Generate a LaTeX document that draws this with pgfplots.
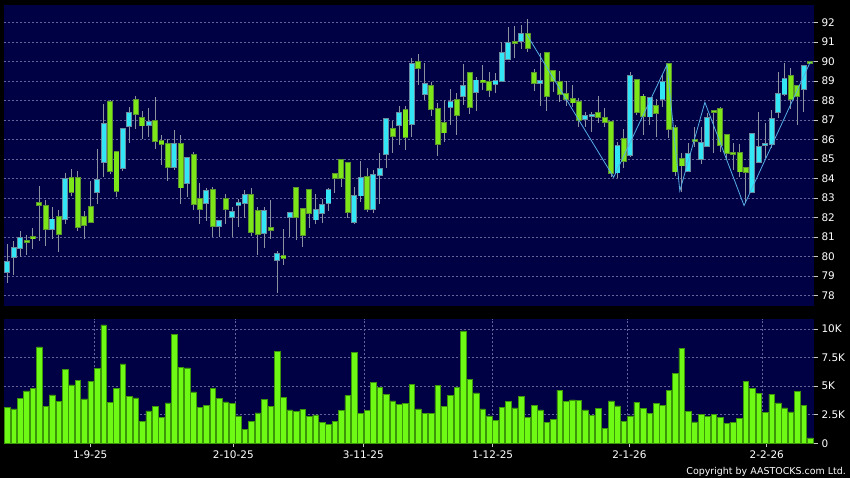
\documentclass[border=0pt]{standalone}
\usepackage{pgfplots}
\usepackage{pgfplotstable}
\pgfplotsset{compat=1.18}
\usepackage{fontspec}
\setmainfont{DejaVu Sans}

\definecolor{navy}{RGB}{0,0,68}
\definecolor{gridc}{RGB}{100,100,155}
\definecolor{cyanf}{RGB}{50,230,245}
\definecolor{cyanb}{RGB}{105,140,160}
\definecolor{greenf}{RGB}{125,230,25}
\definecolor{greenb}{RGB}{90,150,45}
\definecolor{wick}{RGB}{140,145,160}
\definecolor{volf}{RGB}{110,250,20}
\definecolor{volb}{RGB}{60,150,10}
\definecolor{zig}{RGB}{85,175,230}
\definecolor{tickc}{RGB}{200,200,200}

% i  body-bottom  body-top  low  high
\pgfplotstableread{
i bb bt lo hi
1 79.23 79.74 78.67 80.63
2 80.00 80.43 79.06 80.82
3 80.43 80.97 80.00 81.32
8 81.40 81.91 80.89 82.53
10 81.93 83.97 81.66 84.27
15 83.30 83.91 82.68 85.52
16 84.84 86.79 84.10 87.83
19 84.53 86.53 84.41 86.53
20 86.68 87.35 85.81 87.69
23 86.75 86.89 86.15 87.64
27 84.58 85.76 84.44 86.50
29 83.76 85.04 83.04 85.04
32 82.75 83.38 81.83 83.50
34 81.56 81.81 80.99 81.90
36 82.02 82.27 81.03 82.56
37 82.65 82.74 81.54 82.94
38 82.74 83.18 81.97 83.42
41 81.20 82.36 80.43 82.56
43 79.83 80.12 78.15 80.31
45 82.02 82.22 81.03 82.22
49 81.90 82.38 81.66 83.21
50 82.22 82.65 81.71 82.96
51 82.74 83.40 82.32 83.50
55 81.76 83.13 81.66 83.59
56 83.13 84.02 82.79 84.89
58 82.43 84.17 82.22 84.44
59 84.17 84.48 82.68 85.30
60 85.25 87.04 84.53 87.13
62 86.74 87.35 85.73 87.73
64 86.79 89.86 86.15 90.17
66 88.32 88.84 88.03 89.91
70 87.69 87.95 86.75 88.58
72 88.21 88.77 87.78 89.86
74 88.43 89.03 87.49 89.20
77 88.85 89.01 88.41 89.40
78 89.01 90.46 88.97 90.99
79 90.12 90.97 90.09 91.76
81 91.03 91.42 90.63 91.88
84 88.89 88.99 87.73 90.43
91 87.04 87.21 86.67 87.44
92 87.19 87.26 86.41 87.44
96 84.31 85.69 84.02 85.90
98 85.21 89.28 85.13 89.49
101 87.18 88.12 86.75 88.12
103 88.07 88.97 87.69 89.32
107 84.39 85.25 84.36 85.85
109 84.99 85.85 84.74 86.67
110 85.68 87.09 85.64 87.35
117 83.33 86.27 83.28 86.27
118 84.84 85.64 84.79 87.40
119 85.70 85.76 85.04 86.84
120 85.76 87.04 85.56 87.52
121 87.40 88.32 87.09 89.44
122 88.32 89.09 88.21 89.95
125 88.60 89.78 87.44 89.83
}\cyantab

\pgfplotstableread{
i bb bt lo hi
4 80.75 80.82 80.09 81.11
5 80.93 81.00 80.41 81.49
6 82.65 82.74 80.82 83.62
7 81.40 82.62 80.56 82.91
9 81.15 82.02 80.22 82.39
11 83.30 84.02 83.13 84.50
12 81.52 84.05 81.32 84.38
13 81.61 82.02 80.89 82.34
14 81.78 82.53 81.71 83.88
17 84.39 87.91 84.22 88.05
18 83.35 85.35 83.08 85.35
21 87.30 88.03 86.56 88.26
22 86.72 87.09 86.02 87.47
24 85.91 86.96 85.52 88.19
25 85.76 85.91 84.70 86.24
26 84.58 85.79 83.88 86.05
28 83.54 85.76 82.72 86.24
30 82.70 85.20 82.39 85.38
31 82.43 82.97 81.69 83.79
33 81.56 83.40 81.01 83.59
35 82.43 82.97 81.67 83.20
39 81.25 83.18 81.08 83.50
40 81.15 82.36 80.09 82.56
42 81.35 81.45 80.92 82.91
44 79.93 80.02 79.57 81.42
46 82.02 83.50 80.85 83.50
47 81.09 82.43 80.48 82.43
48 82.22 83.40 81.45 83.40
52 84.02 84.22 83.25 84.22
53 84.02 84.97 83.59 84.97
54 82.27 84.79 81.97 84.79
57 82.43 84.10 82.27 84.56
61 86.17 86.53 85.33 86.97
63 86.12 87.50 85.49 87.73
65 89.66 90.00 88.80 90.39
67 87.56 88.77 87.21 88.97
68 85.76 87.56 85.18 87.86
69 86.36 86.87 85.90 88.03
71 87.25 88.03 86.26 88.38
73 87.66 89.40 87.30 89.49
75 88.97 89.03 88.55 89.83
76 88.55 88.97 88.17 89.49
80 90.94 91.00 90.17 91.83
82 90.68 91.42 90.51 92.17
83 88.89 89.40 88.51 89.60
85 88.21 90.46 87.49 90.46
86 89.01 89.52 88.46 89.52
87 88.32 88.97 87.95 89.52
88 88.09 88.32 87.73 89.01
89 87.90 88.10 87.69 88.80
90 87.01 87.95 86.67 88.15
93 87.15 87.38 86.84 88.21
94 86.89 87.09 86.63 87.61
95 84.27 86.89 84.10 86.89
97 84.92 86.02 84.53 86.53
99 87.40 89.06 87.26 89.06
100 87.21 88.21 86.24 88.34
102 87.38 87.73 86.12 88.07
104 86.55 89.86 86.07 89.86
105 84.36 86.58 84.14 86.75
106 84.67 84.99 83.33 85.30
108 85.93 85.99 85.64 86.63
111 87.41 87.47 85.30 87.52
112 85.73 87.56 85.38 87.69
113 85.30 86.24 84.96 86.24
114 85.27 85.33 84.44 85.81
115 84.36 85.30 84.10 85.76
116 84.32 84.56 82.74 84.56
123 88.07 89.26 87.56 89.66
124 88.21 88.75 86.75 88.80
126 89.94 90.00 89.90 90.00
}\greentab

\pgfplotstableread{
i v
1 3.15
2 3.00
3 3.94
4 4.58
5 4.78
6 8.43
7 3.21
8 4.23
9 3.64
10 6.47
11 5.10
12 5.51
13 3.88
14 5.42
15 6.53
16 10.35
17 3.56
18 4.81
19 6.94
20 4.11
21 3.97
22 1.90
23 2.83
24 3.21
25 2.27
26 3.53
27 9.50
28 6.65
29 6.59
30 4.49
31 3.15
32 3.29
33 4.81
34 3.94
35 3.62
36 3.50
37 2.39
38 1.20
39 1.90
40 2.65
41 3.85
42 3.21
43 8.05
44 3.99
45 2.92
46 2.77
47 2.97
48 2.36
49 2.48
50 1.81
51 1.63
52 1.90
53 2.86
54 4.17
55 7.93
56 2.62
57 2.89
58 5.31
59 4.90
60 4.31
61 3.70
62 3.38
63 3.47
64 5.16
65 3.00
66 2.62
67 2.59
68 5.07
69 3.24
70 4.20
71 4.90
72 9.83
73 5.57
74 4.40
75 3.00
76 2.39
77 1.98
78 3.15
79 3.64
80 3.09
81 4.11
82 2.24
83 3.29
84 2.92
85 1.84
86 2.10
87 4.66
88 3.67
89 3.79
90 3.76
91 2.92
92 2.42
93 3.06
94 1.28
95 3.70
96 3.27
97 1.95
98 2.39
99 3.59
100 3.06
101 2.62
102 3.47
103 3.29
104 4.66
105 6.12
106 8.31
107 2.77
108 1.87
109 2.51
110 2.33
111 2.54
112 2.27
113 1.75
114 1.84
115 2.16
116 5.39
117 4.78
118 4.34
119 2.71
120 4.31
121 3.53
122 3.09
123 2.74
124 4.52
125 3.32
126 0.47
}\voltab

\pgfplotsset{
  chart/.style={
    scale only axis,
    anchor=south west,
    width=810.5bp,
    axis background/.style={fill=navy},
    axis line style={draw=none},
    xmin=0.41, xmax=126.59,
    ymajorgrids, xminorgrids,
    minor xtick={14.55,36.56,56.58,76.51,97.56,118.55},
    major grid style={gridc, dash pattern=on 2bp off 2bp, line width=0.5bp},
    minor grid style={gridc, dash pattern=on 2bp off 2bp, line width=0.5bp},
    ytick pos=right, yticklabel pos=right,
    tick align=outside,
    major tick length=4bp, minor tick length=0pt,
    tick style={tickc, line width=0.6bp},
    ticklabel style={font=\fontsize{10.5}{12}\selectfont, text=white},
  },
  segs/.style 2 args={only marks, mark=*, mark size=0pt,
    mark options={draw=none, fill=none}, forget plot,
    error bars/.cd, y dir=plus, y explicit, error mark=none,
    error bar style={line width=#1, draw=#2, line cap=butt}},
}

\begin{document}
\begin{tikzpicture}
\fill[black] (0,0) rectangle (850bp,478bp);
\useasboundingbox (0,0) rectangle (850bp,478bp);

% price panel
\begin{axis}[chart, at={(3.5bp,172bp)}, height=301bp,
  ymin=77.47, ymax=92.9,
  xtick=\empty,
  ytick={78,79,80,81,82,83,84,85,86,87,88,89,90,91,92},
  yticklabels={78,79,80,81,82,83,84,85,86,87,88,89,90,91,92}]
  % wicks (low to high)
  \addplot[segs={1bp}{wick}] table[x=i, y=lo, y error expr={\thisrow{hi}-\thisrow{lo}}] {\cyantab};
  \addplot[segs={1bp}{wick}] table[x=i, y=lo, y error expr={\thisrow{hi}-\thisrow{lo}}] {\greentab};
  % bodies: border then fill
  \addplot[segs={5.9bp}{cyanb}] table[x=i, y expr={\thisrow{bb}-0.045}, y error expr={\thisrow{bt}-\thisrow{bb}+0.09}] {\cyantab};
  \addplot[segs={4.1bp}{cyanf}] table[x=i, y=bb, y error expr={\thisrow{bt}-\thisrow{bb}}] {\cyantab};
  \addplot[segs={5.9bp}{greenb}] table[x=i, y expr={\thisrow{bb}-0.045}, y error expr={\thisrow{bt}-\thisrow{bb}+0.09}] {\greentab};
  \addplot[segs={4.1bp}{greenf}] table[x=i, y=bb, y error expr={\thisrow{bt}-\thisrow{bb}}] {\greentab};
  % zigzag line
  \addplot[zig, line width=0.8bp, mark=none] coordinates {
    (81.9,91.37) (95.4,84.07) (103.7,89.83) (105.7,83.37)
    (109.6,87.91) (115.7,82.62) (126.0,89.97) };
\end{axis}

% volume panel
\begin{axis}[chart, at={(3.5bp,34.7bp)}, height=124.3bp,
  ymin=0, ymax=10.87,
  xtick={13.92,36.19,56.43,76.57,97.84,119.23},
  xticklabels={1-9-25,2-10-25,3-11-25,1-12-25,2-1-26,2-2-26},
  xtick pos=bottom,
  ytick={0,2.5,5,7.5,10},
  yticklabels={0,2.5K,5K,7.5K,10K}]
  \addplot[ybar, bar width=5.6bp, fill=volf, draw=volb, line width=0.6bp] table[x=i, y=v] {\voltab};
\end{axis}

\node[anchor=base east, text=white, font=\fontsize{9.5}{12}\selectfont, inner sep=0pt] at (846bp,4bp) {Copyright by AASTOCKS.com Ltd.};
\end{tikzpicture}
\end{document}
